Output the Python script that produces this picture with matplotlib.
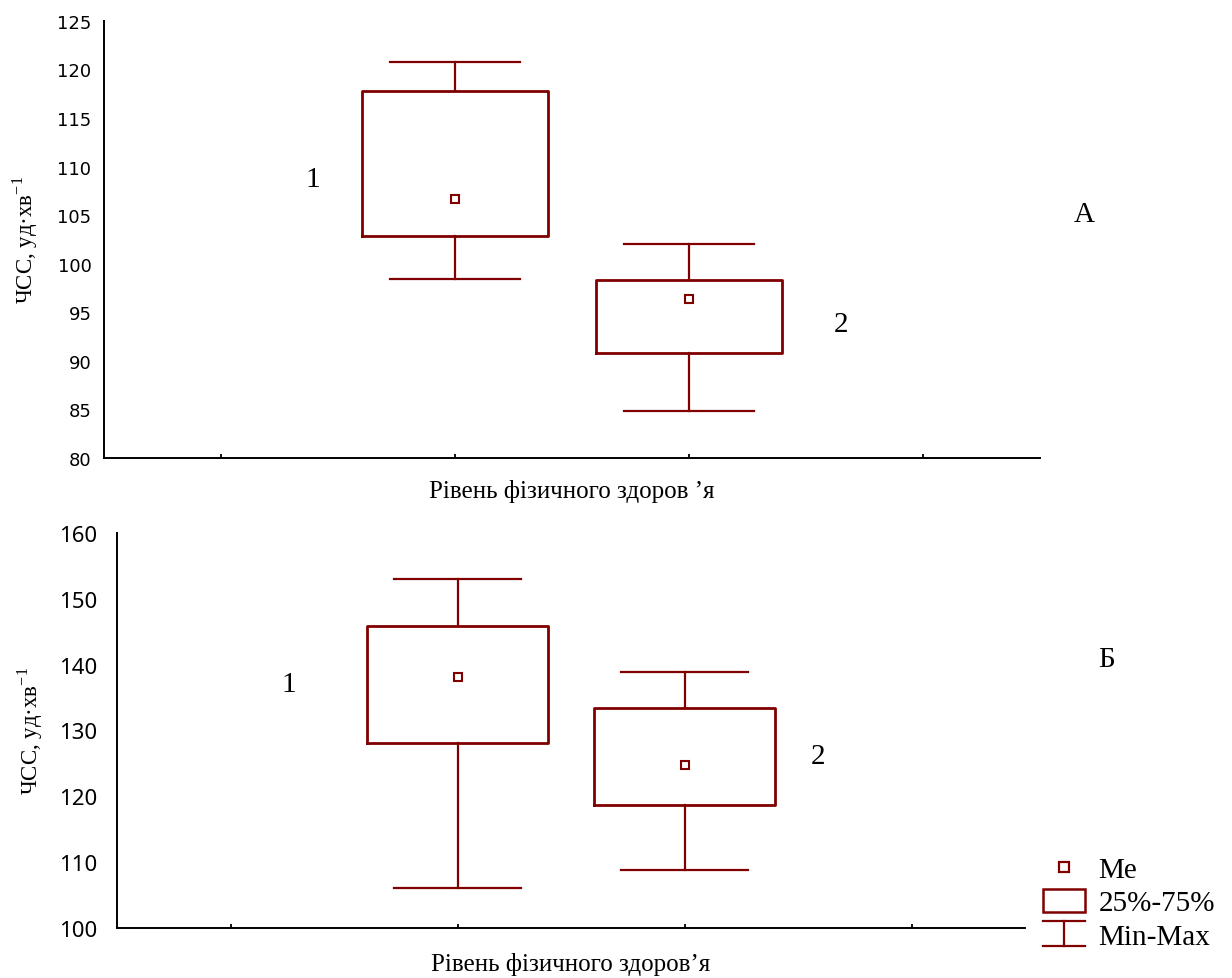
import matplotlib
matplotlib.use("Agg")
import matplotlib.pyplot as plt
from matplotlib.patches import Rectangle
from matplotlib.lines import Line2D
from matplotlib.legend_handler import HandlerBase

plt.rcParams["mathtext.fontset"] = "custom"
plt.rcParams["mathtext.rm"] = "Liberation Serif"

# panel A (top)
pos = [1.5, 2.5]
a_min = [98.4, 84.8]
a_q1 = [102.9, 90.8]
a_me = [106.7, 96.4]
a_q3 = [117.8, 98.3]
a_max = [120.8, 102.0]

# panel Б (bottom)
b_min = [106.0, 108.8]
b_q1 = [128.1, 118.7]
b_me = [138.1, 124.8]
b_q3 = [145.9, 133.4]
b_max = [153.0, 138.9]

group_labels = ["1", "2"]
xlabel_top = "Рівень фізичного здоров ’я"
xlabel_bottom = "Рівень фізичного здоров’я"
ylabel = "ЧСС, уд·хв$^{\\mathregular{-1}}$"

RED = "#800000"
SERIF = "Liberation Serif"


def draw_panel(ax, mins, q1s, meds, q3s, maxs):
    stats = []
    for lo, a, m, b, hi in zip(mins, q1s, meds, q3s, maxs):
        stats.append(dict(whislo=lo, q1=a, med=m, mean=m, q3=b, whishi=hi, fliers=[]))
    ax.bxp(stats, positions=pos, widths=0.795, capwidths=0.556,
           showmeans=True, showfliers=False, patch_artist=False,
           boxprops=dict(color=RED, lw=2.0),
           whiskerprops=dict(color=RED, lw=1.6),
           capprops=dict(color=RED, lw=1.6),
           medianprops=dict(visible=False),
           meanprops=dict(marker="s", markersize=5.5, markerfacecolor="white",
                          markeredgecolor=RED, markeredgewidth=1.5))
    ax.set_xlim(0, 4)
    ax.set_xticks([0.5, 1.5, 2.5, 3.5])
    ax.set_xticklabels([])
    ax.tick_params(axis="x", direction="in", length=3, width=1.3)
    for s in ["top", "right"]:
        ax.spines[s].set_visible(False)
    for s in ["left", "bottom"]:
        ax.spines[s].set_linewidth(1.4)


class WhiskerHandler(HandlerBase):
    def create_artists(self, legend, orig_handle, xdescent, ydescent,
                       width, height, fontsize, trans):
        x0, x1 = -xdescent, -xdescent + width
        xm = (x0 + x1) / 2
        y0, y1 = -ydescent - 0.05 * height, -ydescent + height * 1.05
        lines = [
            Line2D([x0, x1], [y1, y1], color=RED, lw=1.6, transform=trans),
            Line2D([x0, x1], [y0, y0], color=RED, lw=1.6, transform=trans),
            Line2D([xm, xm], [y0, y1], color=RED, lw=1.6, transform=trans),
        ]
        return lines


fig = plt.figure(figsize=(12.32, 9.79), dpi=100)

# top panel
ax1 = fig.add_axes([0.0844, 0.5312, 0.7597, 0.4464])
draw_panel(ax1, a_min, a_q1, a_me, a_q3, a_max)
ax1.set_ylim(80, 125)
ax1.set_yticks(range(80, 126, 5))
ax1.tick_params(axis="y", length=0, pad=9)
for t in ax1.get_yticklabels():
    t.set_fontfamily("DejaVu Sans")
    t.set_fontsize(13)
ax1.set_xlabel(xlabel_top, family=SERIF, fontsize=18, labelpad=12)
ax1.set_ylabel(ylabel, family=SERIF, fontsize=16.5, labelpad=12)
ax1.text(0.893, 108.7, group_labels[0], family=SERIF, fontsize=21, ha="center", va="center")
ax1.text(3.15, 93.8, group_labels[1], family=SERIF, fontsize=21, ha="center", va="center")
ax1.text(4.19, 105.1, "А", family=SERIF, fontsize=21, ha="center", va="center", clip_on=False)

# bottom panel
ax2 = fig.add_axes([0.0950, 0.0511, 0.7370, 0.4035])
draw_panel(ax2, b_min, b_q1, b_me, b_q3, b_max)
ax2.set_ylim(100, 160)
ax2.set_yticks(range(100, 161, 10))
ax2.tick_params(axis="y", length=0, pad=14)
for t in ax2.get_yticklabels():
    t.set_fontfamily("Noto Sans")
    t.set_fontsize(16)
ax2.set_xlabel(xlabel_bottom, family=SERIF, fontsize=18, labelpad=14)
ax2.set_ylabel(ylabel, family=SERIF, fontsize=16.5, labelpad=10)
ax2.text(0.758, 137.1, group_labels[0], family=SERIF, fontsize=21, ha="center", va="center")
ax2.text(3.09, 126.1, group_labels[1], family=SERIF, fontsize=21, ha="center", va="center")
ax2.text(4.36, 140.9, "Б", family=SERIF, fontsize=21, ha="center", va="center", clip_on=False)

# legend
h_me = Line2D([], [], marker="s", markersize=6.5, markerfacecolor="white",
              markeredgecolor=RED, markeredgewidth=1.6, linestyle="none")
h_box = Rectangle((0, 0), 1, 1, facecolor="white", edgecolor=RED, lw=1.8)
h_wh = object()
fig.legend([h_me, h_box, h_wh], ["Me", "25%-75%", "Min-Max"],
           handler_map={h_wh: WhiskerHandler()},
           loc="lower left", bbox_to_anchor=(0.8466, 0.029),
           frameon=False, prop=dict(family=SERIF, size=21),
           handlelength=1.45, handleheight=0.8, handletextpad=0.45,
           labelspacing=0.2, borderpad=0.0, borderaxespad=0.0)

fig.savefig("out.png", dpi=100)
